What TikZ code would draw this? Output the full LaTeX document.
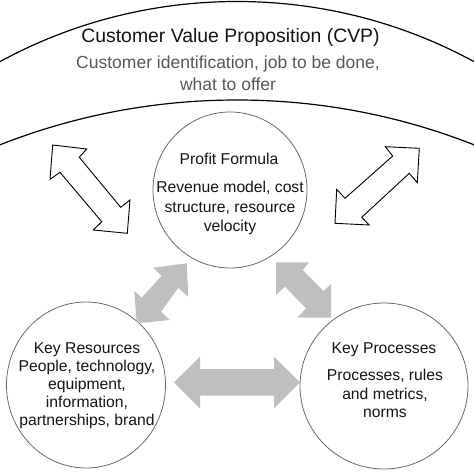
\documentclass[tikz,border=0pt]{standalone}
\usepackage{fontspec}
\setmainfont{Liberation Sans}
\usetikzlibrary{shapes.geometric}
\definecolor{arrowgray}{RGB}{191,191,191}
\definecolor{subgray}{RGB}{88,88,88}
\definecolor{ringgray}{RGB}{105,105,105}
\definecolor{inkblack}{RGB}{20,20,20}
\begin{document}
\begin{tikzpicture}[x=1pt,y=-1pt,
  ring/.style={ellipse, draw=ringgray, line width=0.8pt, inner sep=0pt},
  bodytxt/.style={align=center, inner sep=0pt, text=inkblack},
  outlinearrow/.style={draw=black, fill=white, line width=0.9pt, line join=miter},
  grayarrow/.style={fill=arrowgray},
  bigarc/.style={draw=black, line width=1.2pt}]
\useasboundingbox (0,0) rectangle (474,474);
\begin{scope}
  \clip (0,0) rectangle (474,474);
  \draw[bigarc] (237,498) circle[radius=496.5];
  \draw[bigarc] (237,746.6) circle[radius=646.6];
\end{scope}

% texts of the CVP band
\node[bodytxt, font=\fontsize{19.4}{22}\selectfont] (cvp) at (230.5,37) {Customer Value Proposition (CVP)};
\node[bodytxt, text=subgray, font=\fontsize{17.5}{22}\selectfont] (cvpsub) at (228,73) {Customer identification, job to be done,\\what to offer};

% circles
\node[ring, minimum width=154pt, minimum height=156pt] (pf) at (230,190) {};
\node[ring, minimum width=159pt, minimum height=166pt] (kr) at (86,385) {};
\node[ring, minimum width=168pt, minimum height=166pt] (kp) at (384,386) {};

% circle texts
\node[bodytxt, font=\fontsize{15.7}{19.5}\selectfont] (pfhead) at (229,159) {Profit Formula};
\node[bodytxt, font=\fontsize{15.7}{19.5}\selectfont] (pfbody) at (230,208) {Revenue model, cost\\structure, resource\\velocity};
\node[bodytxt, font=\fontsize{15.7}{18}\selectfont] (krtext) at (87,386) {Key Resources\\People, technology,\\equipment,\\information,\\partnerships, brand};
\node[bodytxt, font=\fontsize{15.7}{19}\selectfont] (kphead) at (384,350) {Key Processes};
\node[bodytxt, font=\fontsize{15.7}{18.7}\selectfont] (kpbody) at (385,393.6) {Processes, rules\\and metrics,\\norms};

% outline double arrows
\draw[outlinearrow] (52.7,145) -- (86.7,149) -- (79.3,157.3) -- (120.7,207.3) -- (130,200) -- (127.3,233.3) -- (93.3,230) -- (101.7,221.7) -- (60,172.3) -- (50,179.3) -- cycle;
\draw[outlinearrow] (419.3,148.3) -- (417.3,182.7) -- (409.3,173.3) -- (361.7,217.3) -- (369.3,225) -- (335,223.3) -- (336.7,189.3) -- (345,198.3) -- (392.7,156) -- (385.3,146.7) -- cycle;

% gray double arrows
\fill[grayarrow] (186.7,263.3) -- (188.3,296.7) -- (178.3,288) -- (161,311.7) -- (170,320) -- (136.7,323.3) -- (134.3,291) -- (141.7,297.7) -- (161.5,276) -- (153.3,267.7) -- cycle;
\fill[grayarrow] (276,262.3) -- (309.3,262.3) -- (302.7,270) -- (323.3,291) -- (331,284.3) -- (331,317.7) -- (297.3,317.7) -- (306,308.3) -- (285,286.7) -- (276,295) -- cycle;
\fill[grayarrow] (174,382.3) -- (200,356.7) -- (200,369) -- (274,369) -- (274,356.7) -- (300,382.3) -- (274,408.3) -- (274,395.7) -- (200,395.7) -- (200,408.3) -- cycle;
\end{tikzpicture}
\end{document}
